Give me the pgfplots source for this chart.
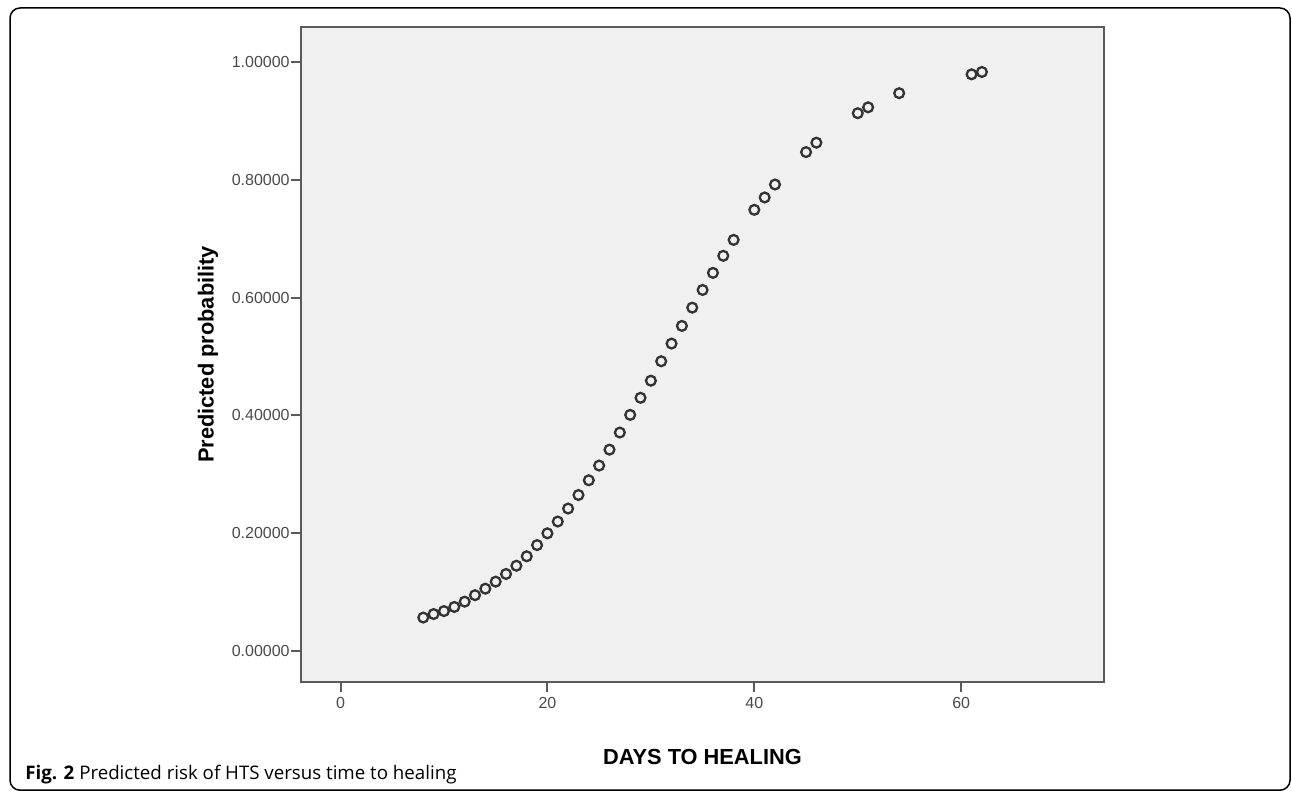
\documentclass[border=0pt]{standalone}
\usepackage{pgfplots}
\pgfplotsset{compat=1.18}
\usepackage{fontspec}
\setmainfont{Liberation Sans}
\newfontfamily\capfont{Open Sans}
\definecolor{plotbg}{HTML}{F0F0F0}
\definecolor{axgray}{HTML}{5A5A5A}
\definecolor{tickgray}{HTML}{4A4A4A}
\definecolor{markgray}{HTML}{333333}
\begin{document}
\begin{tikzpicture}
\useasboundingbox (0,0) rectangle (646pt,395.5pt);
\draw[line width=0.75pt, rounded corners=5pt] (5pt,0.4pt) rectangle (645pt,391.5pt);
\begin{axis}[
  at={(150.5pt,54.6pt)}, anchor=south west,
  scale only axis, width=401.5pt, height=327.3pt,
  xmin=-3.82, xmax=73.8, ymin=-0.052, ymax=1.059,
  axis background/.style={fill=plotbg},
  axis line style={draw=axgray, line width=1pt},
  xtick={0,20,40,60}, ytick={0,0.2,0.4,0.6,0.8,1.0},
  xtick pos=left, ytick pos=left,
  tick align=outside, major tick length=5pt,
  tick style={draw=axgray, line width=1pt},
  /pgf/number format/assume math mode=true,
  yticklabel style={/pgf/number format/fixed, /pgf/number format/zerofill, /pgf/number format/precision=5, inner sep=0.5pt},
  xticklabel style={yshift=1pt},
  ticklabel style={font=\fontsize{8}{9}\selectfont, text=tickgray},
  xlabel={DAYS TO HEALING},
  ylabel={Predicted probability},
  label style={font=\fontsize{10.9}{12}\selectfont\bfseries},
  xlabel style={at={(axis description cs:0.5,-0.115)}, anchor=center},
  ylabel style={at={(axis description cs:-0.1158,0.5)}, anchor=center},
]
\addplot[only marks, mark=o, mark size=2.45pt, mark options={draw=markgray, line width=1.15pt}]
coordinates {
(8,0.057) (9,0.063) (10,0.068) (11,0.075) (12,0.084) (13,0.095) (14,0.106)
(15,0.118) (16,0.131) (17,0.145) (18,0.161) (19,0.180) (20,0.200) (21,0.220)
(22,0.242) (23,0.265) (24,0.290) (25,0.315) (26,0.342) (27,0.371) (28,0.401)
(29,0.430) (30,0.459) (31,0.492) (32,0.522) (33,0.552) (34,0.583) (35,0.613)
(36,0.642) (37,0.671) (38,0.698) (40,0.749) (41,0.770) (42,0.792) (45,0.847)
(46,0.863) (50,0.913) (51,0.923) (54,0.947) (61,0.979) (62,0.983)
};
\end{axis}
\node[anchor=west, inner sep=0pt, font=\capfont\fontsize{9.35}{10}\selectfont] at (12.5pt,8pt) {\textbf{Fig. 2} Predicted risk of HTS versus time to healing};
\end{tikzpicture}
\end{document}
